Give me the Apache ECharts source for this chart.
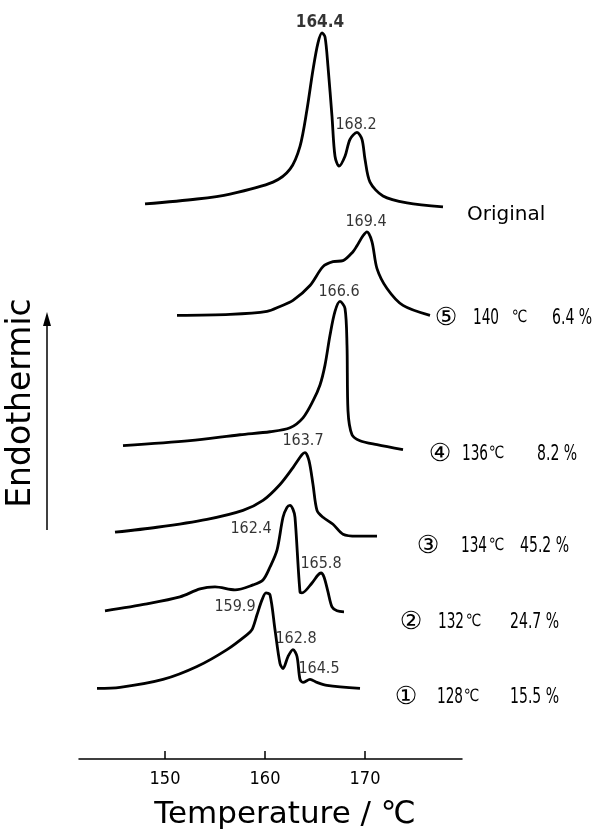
<!DOCTYPE html>
<html><head><meta charset="utf-8">
<script src="https://cdn.jsdelivr.net/npm/echarts@6/dist/echarts.min.js"></script>
<style>html,body{margin:0;padding:0;background:#fff}#c{width:593px;height:835px}</style>
</head><body><div id="c"></div>
<script>
// ---- data (temperature in °C, heat-flow signal in arbitrary units) ----
const tempTicks = [150, 160, 170];

const originalT = [148.0,153.2,156.5,160.8,162.5,163.5,164.2,164.8,165.3,165.7,166.0,166.3,166.7,167.0,167.4,168.0,168.5,169.2,169.7,170.0,170.5,171.8,174.2,177.8];
const originalS = [55.8,56.3,56.8,58.0,59.3,61.6,65.3,69.3,72.0,73.0,72.6,69.6,64.6,60.6,59.6,60.6,62.3,63.0,62.3,60.3,58.0,56.6,55.9,55.5];

const run5T = [151.2,156.5,160.2,161.5,162.8,164.5,165.8,166.8,167.8,168.8,169.2,169.8,170.2,170.7,171.2,172.2,173.8,176.5];
const run5S = [44.6,44.7,45.0,45.5,46.1,47.6,49.5,50.0,50.1,51.0,51.6,52.6,53.0,52.0,49.3,47.3,45.6,44.6];

const run4T = [145.8,152.5,157.5,160.5,162.5,163.8,164.8,165.5,166.0,166.5,167.0,167.5,168.0,168.2,168.3,168.7,169.5,171.2,173.8];
const run4S = [31.5,32.0,32.6,32.9,33.3,34.3,36.0,37.6,39.6,42.6,45.0,46.0,45.3,41.6,35.0,32.6,32.0,31.6,31.1];

const run3T = [145.0,149.2,154.2,157.8,159.8,161.5,162.8,163.7,164.0,164.4,164.8,165.2,165.8,166.8,167.8,169.2,171.2];
const run3S = [22.8,23.3,24.1,25.0,26.0,27.6,29.3,30.6,30.8,30.0,27.6,25.0,24.3,23.6,22.6,22.4,22.4];

const run2T = [144.0,148.2,151.5,153.5,155.0,157.0,158.8,159.8,160.5,161.2,161.8,162.2,162.5,162.8,163.0,163.5,163.7,164.7,165.3,165.6,165.9,166.3,166.7,167.2,167.9];
const run2S = [14.9,15.6,16.3,17.1,17.3,17.0,17.5,18.0,19.3,21.0,24.3,25.3,25.5,25.1,24.3,16.8,16.7,17.7,18.5,18.7,18.3,16.8,15.3,14.9,14.8];

const run1T = [143.2,145.5,149.8,153.2,156.2,158.2,158.7,159.2,159.7,160.1,160.5,161.0,161.5,161.8,162.3,162.8,163.2,163.5,163.8,164.5,165.2,166.2,169.5];
const run1S = [7.1,7.2,8.0,9.3,11.0,12.5,13.0,14.5,16.0,16.7,16.5,13.0,9.6,9.1,10.3,11.0,10.3,8.0,7.7,8.0,7.7,7.4,7.1];

const peakText  = ['164.4','168.2','169.4','166.6','163.7','162.4','165.8','159.9','162.8','164.5'];
const peakTextT = [165.5,169.1,170.1,167.4,163.8,158.6,165.6,157.0,163.1,165.4];
const peakTextS = [74.0,63.8,54.0,47.0,32.0,23.1,19.6,15.3,12.1,9.1];

const sampleMark = ['⑤','④','③','②','①'];
const annealTemp = ['140','136','134','132','128'];
const crystallinity = ['6.4 %','8.2 %','45.2 %','24.7 %','15.5 %'];

// ---- chart ----
const NARROW = "'DejaVu Sans Condensed','Liberation Sans Narrow','Liberation Sans',sans-serif";
const SANS = "'DejaVu Sans',sans-serif";
const chart = echarts.init(document.getElementById('c'), null, {renderer:'canvas'});

function zip(a, b){ return a.map((v,i)=>[v,b[i]]); }
const curves = [[originalT,originalS],[run5T,run5S],[run4T,run4S],[run3T,run3S],[run2T,run2S],[run1T,run1S]];

const series = curves.map(c => ({
  type:'line', data: zip(c[0], c[1]), showSymbol:false, smooth:0.3,
  lineStyle:{color:'#000', width:2.8}, silent:true, clip:false
}));
const labelSeries = {
  type:'scatter', symbolSize:0, silent:true, clip:false,
  data: peakText.map((t,i)=>({value:[peakTextT[i], peakTextS[i]], name:t})),
  label:{show:true, position:'inside', formatter:p=>p.name, color:'#000',
    fontFamily:NARROW, fontSize:16}
};
labelSeries.data[0].label = {fontWeight:'bold', fontSize:17, color:'#000'};
series.push(labelSeries);

// right-hand annotation rows (pixel layout)
const rowY = [318, 454, 546, 622, 697];
const markX = [446, 440, 428, 411, 406];
const tempX = [473, 462, 461, 438, 437];
const degX  = [512, 489, 489, 466, 464];
const pctX  = [552, 537, 520, 510, 510];
const graphics = [];
function txt(x, y, s, font, sx, align){
  return {type:'text', x:x, y:y, scaleX:sx||1, silent:true,
    style:{text:s, font:font, fill:'#000', textAlign:align||'left', textVerticalAlign:'middle'}};
}
sampleMark.forEach((m,i)=>{
  graphics.push(txt(markX[i], rowY[i], m, '25px '+SANS, 1, 'center'));
  graphics.push(txt(tempX[i], rowY[i], annealTemp[i], '22px '+NARROW, 0.69));
  graphics.push(txt(degX[i], rowY[i], '℃', '17px '+NARROW, 0.9));
  graphics.push(txt(pctX[i], rowY[i], crystallinity[i], '22px '+NARROW, 0.71));
});
graphics.push(txt(467, 215, 'Original', '20px '+SANS, 1));
graphics.push({type:'text', x:21, y:403, rotation:Math.PI/2, silent:true,
  style:{text:'Endothermic', font:'33px '+SANS, fill:'#000', textAlign:'center', textVerticalAlign:'middle'}});
graphics.push({type:'line', silent:true, shape:{x1:47, y1:530, x2:47, y2:322}, style:{stroke:'#000', lineWidth:1.5}});
graphics.push({type:'polygon', silent:true, shape:{points:[[47,312],[43,326],[51,326]]}, style:{fill:'#000'}});

chart.setOption({
  animation:false,
  backgroundColor:'#fff',
  grid:{left:79, right:131, top:13, bottom:72, containLabel:false},
  xAxis:{
    type:'value', min:141.4, max:179.7,
    axisLine:{show:true, lineStyle:{color:'#000', width:1.5}},
    axisTick:{show:true, inside:true, length:8, lineStyle:{color:'#000', width:1.5}, customValues:tempTicks},
    axisLabel:{show:true, color:'#000', fontSize:18, fontFamily:NARROW, margin:11, customValues:tempTicks},
    splitLine:{show:false},
    name:'Temperature / ℃', nameLocation:'middle', nameGap:40,
    nameTextStyle:{color:'#000', fontSize:31, fontFamily:SANS, padding:[0,0,0,29]}
  },
  yAxis:{type:'value', min:0, max:75, show:false},
  series: series,
  graphic: graphics
});
</script>
</body></html>
